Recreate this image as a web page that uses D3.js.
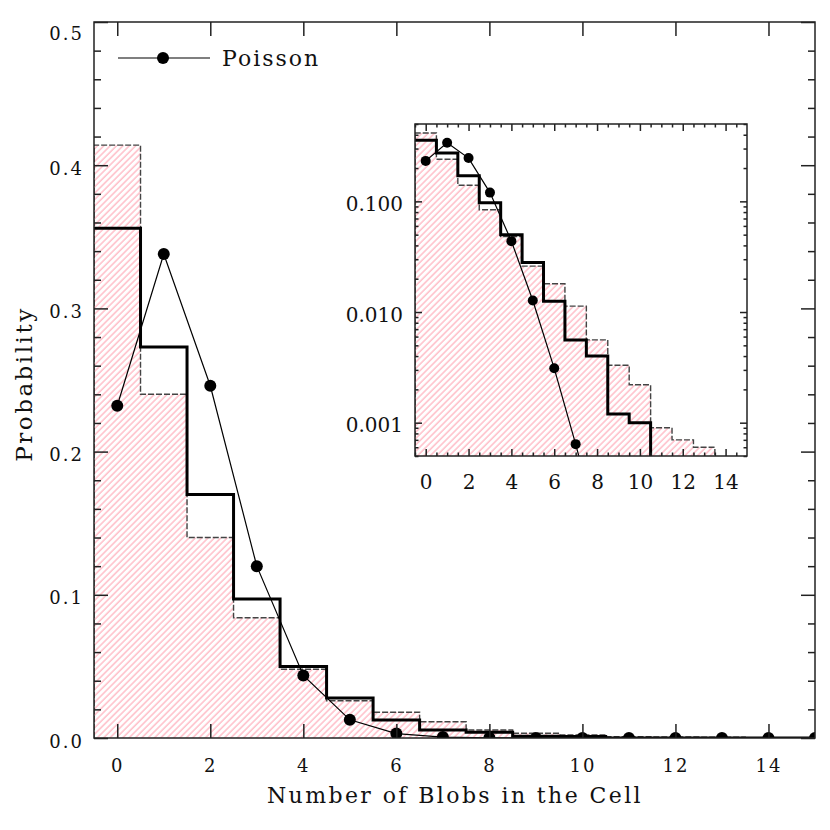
<!DOCTYPE html>
<html>
<head>
<meta charset="utf-8">
<script src="https://cdnjs.cloudflare.com/ajax/libs/d3/7.8.5/d3.min.js"></script>
<style>
  body { margin: 0; background: #fff; }
  text { font-family: 'DejaVu Serif', serif; fill: #111; }
</style>
</head>
<body>
<div id="chart"></div>
<script>
// number of blobs per cell
const counts = [0, 1, 2, 3, 4, 5, 6, 7, 8, 9, 10, 11, 12, 13, 14, 15];
// thick solid histogram
const observed = [0.356, 0.273, 0.170, 0.097, 0.050, 0.028, 0.0125, 0.0056, 0.0040, 0.0012, 0.0010, 0, 0, 0, 0, 0];
// dashed, hatched histogram
const hatched = [0.414, 0.240, 0.140, 0.084, 0.048, 0.026, 0.018, 0.0113, 0.0056, 0.0033, 0.0022, 0.0009, 0.0007, 0.0006, 0, 0];
// Poisson points
const poisson = [0.232, 0.338, 0.246, 0.120, 0.0437, 0.0127, 0.0031, 0.00064, 0.00012, 0.00002, 0.000003, 0, 0, 0, 0, 0];

const mainXTicks = [0, 2, 4, 6, 8, 10, 12, 14];
const mainYTicks = [0, 0.1, 0.2, 0.3, 0.4, 0.5];
const mainYMinor = [0.02, 0.04, 0.06, 0.08, 0.12, 0.14, 0.16, 0.18, 0.22, 0.24, 0.26, 0.28,
                    0.32, 0.34, 0.36, 0.38, 0.42, 0.44, 0.46, 0.48];
const insetXTicks = [0, 2, 4, 6, 8, 10, 12, 14];
const insetXMinor = [-0.5, 0.5, 1, 1.5, 2.5, 3, 3.5, 4.5, 5, 5.5, 6.5, 7, 7.5, 8.5, 9, 9.5,
                     10.5, 11, 11.5, 12.5, 13, 13.5, 14.5];
const insetYTicks = [0.001, 0.01, 0.1];
const insetYLabels = ['0.001', '0.010', '0.100'];
const insetYMinor = [0.0005, 0.0006, 0.0007, 0.0008, 0.0009, 0.002, 0.003, 0.004, 0.005, 0.006, 0.007, 0.008, 0.009,
                     0.02, 0.03, 0.04, 0.05, 0.06, 0.07, 0.08, 0.09, 0.2, 0.3, 0.4, 0.5];

const W = 830, H = 830;
const svg = d3.select('#chart').append('svg').attr('width', W).attr('height', H);

// hatch pattern
const defs = svg.append('defs');
defs.append('pattern')
    .attr('id', 'hatch')
    .attr('patternUnits', 'userSpaceOnUse')
    .attr('width', 4.5).attr('height', 4.5)
    .attr('patternTransform', 'rotate(45)')
  .append('line')
    .attr('x1', 1).attr('y1', 0).attr('x2', 1).attr('y2', 4.5)
    .attr('stroke', '#ffb3c0').attr('stroke-width', 1.3);

function drawPanel(opts) {
  const { id, x, y, left, right, top, bottom, yFloor, r } = opts;
  defs.append('clipPath').attr('id', 'clip-' + id)
    .append('rect').attr('x', left).attr('y', top).attr('width', right - left).attr('height', bottom - top);
  const g = svg.append('g');
  const plot = g.append('g').attr('clip-path', 'url(#clip-' + id + ')');
  const v = d => Math.max(d, yFloor);

  // steps: (k-0.5, value) ... closed at 15.5
  const stepPts = vals => vals.map((d, i) => [counts[i] - 0.5, v(d)])
                              .concat([[counts[counts.length - 1] + 0.5, v(vals[vals.length - 1])]]);

  const area = d3.area().curve(d3.curveStepAfter)
                 .x(d => x(d[0])).y0(bottom + 5).y1(d => y(d[1]));
  plot.append('path').attr('d', area(stepPts(hatched))).attr('fill', 'url(#hatch)');

  const line = d3.line().curve(d3.curveStepAfter).x(d => x(d[0])).y(d => y(d[1]));
  plot.append('path')
      .attr('d', line([[-0.5, yFloor]].concat(stepPts(hatched))))
      .attr('fill', 'none').attr('stroke', '#444').attr('stroke-width', 1.4)
      .attr('stroke-dasharray', '6,2');
  plot.append('path')
      .attr('d', line(stepPts(observed)))
      .attr('fill', 'none').attr('stroke', '#000').attr('stroke-width', 3);

  const pl = d3.line().x((d, i) => x(counts[i])).y(d => y(v(d)));
  plot.append('path').attr('d', pl(poisson))
      .attr('fill', 'none').attr('stroke', '#000').attr('stroke-width', 1.2);
  plot.selectAll('circle.pt').data(poisson).enter().append('circle')
      .attr('class', 'pt')
      .attr('cx', (d, i) => x(counts[i])).attr('cy', d => y(v(d)))
      .attr('r', r).attr('fill', '#000');

  g.append('rect').attr('x', left).attr('y', top)
   .attr('width', right - left).attr('height', bottom - top)
   .attr('fill', 'none').attr('stroke', '#222').attr('stroke-width', 1.5);
  return g;
}

function ticks(g, axis, transform) {
  const a = g.append('g').attr('transform', transform).call(axis);
  a.select('.domain').remove();
  a.selectAll('.tick line').attr('stroke', '#222').attr('stroke-width', 1.5);
  return a;
}

// ---------- main plot ----------
const mx = d3.scaleLinear().domain([-0.5, 15]).range([94, 815]);
const my = d3.scaleLinear().domain([0, 0.5]).range([738, 22]);
const gm = drawPanel({ id: 'main', x: mx, y: my, left: 94, right: 815, top: 22, bottom: 738, yFloor: 0, r: 6 });

const mb = ticks(gm, d3.axisBottom(mx).tickValues(mainXTicks).tickSize(-14).tickPadding(21).tickFormat(d3.format('d')), 'translate(0,738)');
mb.selectAll('text').style('font-size', '18px').style('letter-spacing', '2px').style('font-family', 'DejaVu Serif');
ticks(gm, d3.axisTop(mx).tickValues(mainXTicks).tickSize(-14).tickFormat(''), 'translate(0,22)');
const ml = ticks(gm, d3.axisLeft(my).tickValues(mainYTicks).tickSize(-14).tickPadding(10).tickFormat(d3.format('.1f')), 'translate(94,0)');
ml.selectAll('text').style('font-size', '18px').style('letter-spacing', '2px').style('font-family', 'DejaVu Serif')
  .attr('dy', d => d === 0.5 ? '0.95em' : '0.5em');
ticks(gm, d3.axisLeft(my).tickValues(mainYMinor).tickSize(-7).tickFormat(''), 'translate(94,0)');
ticks(gm, d3.axisRight(my).tickValues(mainYTicks).tickSize(-14).tickFormat(''), 'translate(815,0)');
ticks(gm, d3.axisRight(my).tickValues(mainYMinor).tickSize(-7).tickFormat(''), 'translate(815,0)');

svg.append('text').attr('x', 455).attr('y', 803).attr('text-anchor', 'middle')
   .style('font-size', '22px').style('letter-spacing', '2.4px').text('Number of Blobs in the Cell');
svg.append('text').attr('transform', 'translate(32,384) rotate(-90)').attr('text-anchor', 'middle')
   .style('font-size', '23px').style('letter-spacing', '2.5px').text('Probability');

// legend
svg.append('line').attr('x1', 118).attr('x2', 210).attr('y1', 58).attr('y2', 58)
   .attr('stroke', '#000').attr('stroke-width', 1.2);
svg.append('circle').attr('cx', 163).attr('cy', 58).attr('r', 6).attr('fill', '#000');
svg.append('text').attr('x', 222).attr('y', 66).style('font-size', '22px').style('letter-spacing', '2px').text('Poisson');

// ---------- inset ----------
const ix = d3.scaleLinear().domain([-0.5, 15]).range([415, 747]);
const iy = d3.scaleLog().domain([0.0005, 0.5]).range([456, 124]);
const gi = drawPanel({ id: 'inset', x: ix, y: iy, left: 415, right: 747, top: 124, bottom: 456, yFloor: 0.0001, r: 5 });

const ib = ticks(gi, d3.axisBottom(ix).tickValues(insetXTicks).tickSize(-7).tickPadding(19).tickFormat(d3.format('d')), 'translate(0,456)');
ib.selectAll('text').style('font-size', '20px').style('font-family', 'DejaVu Serif');
ticks(gi, d3.axisBottom(ix).tickValues(insetXMinor).tickSize(-3.5).tickFormat(''), 'translate(0,456)');
ticks(gi, d3.axisTop(ix).tickValues(insetXTicks).tickSize(-7).tickFormat(''), 'translate(0,124)');
ticks(gi, d3.axisTop(ix).tickValues(insetXMinor).tickSize(-3.5).tickFormat(''), 'translate(0,124)');
const il = ticks(gi, d3.axisLeft(iy).tickValues(insetYTicks).tickSize(-7).tickPadding(12).tickFormat((d, i) => insetYLabels[i]), 'translate(415,0)');
il.selectAll('text').style('font-size', '20px').style('font-family', 'DejaVu Serif').attr('dy', '0.45em');
ticks(gi, d3.axisLeft(iy).tickValues(insetYMinor).tickSize(-3.5).tickFormat(''), 'translate(415,0)');
ticks(gi, d3.axisRight(iy).tickValues(insetYTicks).tickSize(-7).tickFormat(''), 'translate(747,0)');
ticks(gi, d3.axisRight(iy).tickValues(insetYMinor).tickSize(-3.5).tickFormat(''), 'translate(747,0)');
</script>
</body>
</html>
